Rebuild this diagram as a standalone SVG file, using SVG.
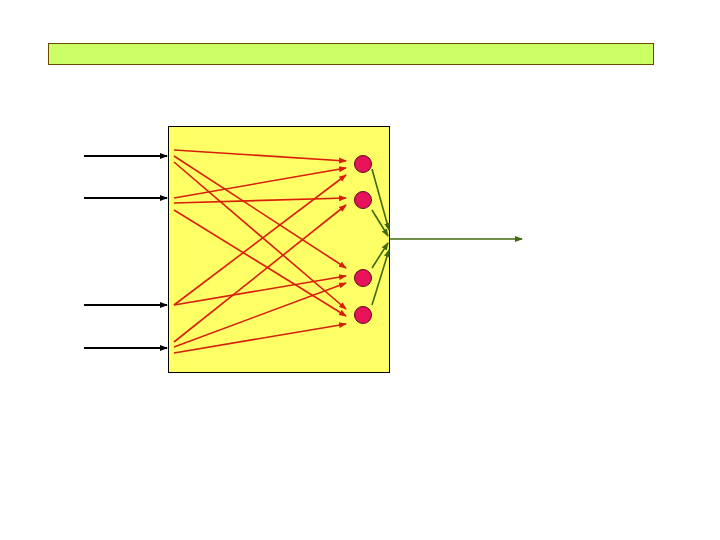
<svg xmlns="http://www.w3.org/2000/svg" width="720" height="540" viewBox="0 0 720 540">
<style>
.in{stroke:#000;stroke-width:2;fill:none}
.r{stroke:#D81E05;stroke-width:1.6;fill:none}
.g{stroke:#3F6A10;stroke-width:1.6;fill:none}
.n{fill:#E8125A;stroke:#5A0A1A;stroke-width:1}
</style>
<defs>
<marker id="ak" markerWidth="8" markerHeight="8" refX="7" refY="4" orient="auto" markerUnits="userSpaceOnUse"><path d="M0,1 L8,4 L0,7 Z" fill="#000"/></marker>
<marker id="ar" markerWidth="8" markerHeight="8" refX="7" refY="4" orient="auto" markerUnits="userSpaceOnUse"><path d="M0,1 L8,4 L0,7 Z" fill="#D81E05"/></marker>
<marker id="ag" markerWidth="8" markerHeight="8" refX="7" refY="4" orient="auto" markerUnits="userSpaceOnUse"><path d="M0,1 L8,4 L0,7 Z" fill="#3F6A10"/></marker>
</defs>
<rect width="720" height="540" fill="#fff"/>
<g id="title-bar"><rect x="48.5" y="43.5" width="605" height="21" fill="#CCFF66" stroke="#6B4A00" stroke-width="1"/></g>
<g id="box"><rect x="168.5" y="126.5" width="221" height="246" fill="#FFFF66" stroke="#000" stroke-width="1"/></g>
<g id="neurons">
<circle id="n1" class="n" cx="363" cy="164" r="8.5"/>
<circle id="n2" class="n" cx="363" cy="200" r="8.5"/>
<circle id="n3" class="n" cx="363" cy="278" r="8.5"/>
<circle id="n4" class="n" cx="363" cy="315" r="8.5"/>
</g>
<g id="connectors">
<line class="in" x1="84" y1="156" x2="167" y2="156" marker-end="url(#ak)"/>
<line class="in" x1="84" y1="198" x2="167" y2="198" marker-end="url(#ak)"/>
<line class="in" x1="84" y1="305" x2="167" y2="305" marker-end="url(#ak)"/>
<line class="in" x1="84" y1="348" x2="167" y2="348" marker-end="url(#ak)"/>
<line class="r" x1="174" y1="150" x2="346" y2="161" marker-end="url(#ar)"/>
<line class="r" x1="174" y1="156" x2="346" y2="268" marker-end="url(#ar)"/>
<line class="r" x1="174" y1="162" x2="346" y2="309" marker-end="url(#ar)"/>
<line class="r" x1="174" y1="198" x2="346" y2="168" marker-end="url(#ar)"/>
<line class="r" x1="174" y1="203" x2="346" y2="198" marker-end="url(#ar)"/>
<line class="r" x1="174" y1="210" x2="346" y2="316" marker-end="url(#ar)"/>
<line class="r" x1="174" y1="305" x2="346" y2="175" marker-end="url(#ar)"/>
<line class="r" x1="174" y1="305" x2="346" y2="276" marker-end="url(#ar)"/>
<line class="r" x1="174" y1="342" x2="346" y2="205" marker-end="url(#ar)"/>
<line class="r" x1="174" y1="347" x2="346" y2="283" marker-end="url(#ar)"/>
<line class="r" x1="174" y1="353" x2="346" y2="324" marker-end="url(#ar)"/>
<line class="g" x1="372" y1="169" x2="389" y2="230" marker-end="url(#ag)"/>
<line class="g" x1="372" y1="210" x2="388" y2="236" marker-end="url(#ag)"/>
<line class="g" x1="372" y1="268" x2="388" y2="243" marker-end="url(#ag)"/>
<line class="g" x1="372" y1="305" x2="389" y2="250" marker-end="url(#ag)"/>
<line class="g" x1="390" y1="239" x2="522" y2="239" marker-end="url(#ag)"/>
</g>
</svg>
